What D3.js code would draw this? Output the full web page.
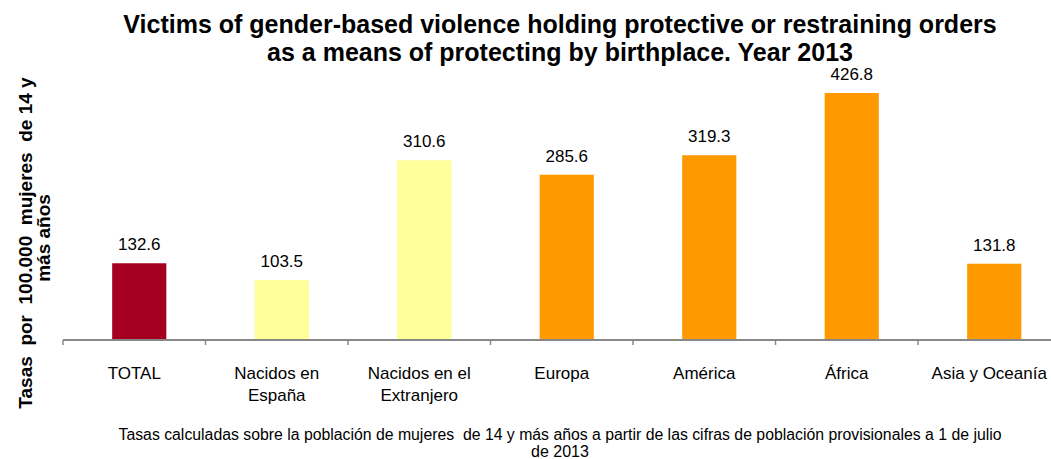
<!DOCTYPE html>
<html>
<head>
<meta charset="utf-8">
<script src="https://cdn.jsdelivr.net/npm/d3@7"></script>
<style>
  html, body { margin: 0; padding: 0; background: #fff; }
  svg { display: block; font-family: "Liberation Sans", Arial, sans-serif; }
</style>
</head>
<body>
<svg id="chart" width="1051" height="459"></svg>
<script>
// ---- Data ----
const categories = ["TOTAL", "Nacidos en\nEspaña", "Nacidos en el\nExtranjero", "Europa", "América", "África", "Asia y Oceanía"];
const values = [132.6, 103.5, 310.6, 285.6, 319.3, 426.8, 131.8];
const valueLabels = ["132.6", "103.5", "310.6", "285.6", "319.3", "426.8", "131.8"];
const titleLines = ["Victims of gender-based violence holding protective or restraining orders", "as a means of protecting by birthplace. Year 2013"];
const yTitleLines = ["Tasas  por  100.000  mujeres  de 14 y", "más años"];
const noteLines = ["Tasas calculadas sobre la población de mujeres  de 14 y más años a partir de las cifras de población provisionales a 1 de julio", "de 2013"];

// ---- Styles ----
const barColors = ["#A50021", "#FFFF99", "#FFFF99", "#FF9900", "#FF9900", "#FF9900", "#FF9900"];

const svg = d3.select("#chart");
const plot = { left: 63, right: 1060.5, top: 93, bottom: 340 };

const x = d3.scaleBand().domain(categories).range([plot.left, plot.right]).padding(0);
const y = d3.scaleLinear().domain([0, 426.8]).range([plot.bottom, plot.top]);
const color = d3.scaleOrdinal().domain(categories).range(barColors);
const barW = x.step() * 0.38;
const barShift = 5;
const barCenter = d => x(d) + x.bandwidth() / 2 + barShift;

// Bars
svg.append("g").selectAll("rect").data(categories).join("rect")
  .attr("x", d => barCenter(d) - barW / 2)
  .attr("width", barW)
  .attr("y", (d, i) => y(values[i]))
  .attr("height", (d, i) => y(0) - y(values[i]))
  .attr("fill", d => color(d));

// Value labels
svg.append("g").selectAll("text").data(categories).join("text")
  .attr("x", d => barCenter(d))
  .attr("y", (d, i) => y(values[i]) - 13)
  .attr("text-anchor", "middle")
  .attr("font-size", 17)
  .attr("fill", "#000")
  .text((d, i) => valueLabels[i]);

// X axis (ticks at category boundaries)
const axis = svg.append("g").attr("transform", `translate(0,${plot.bottom})`);
axis.append("line").attr("x1", plot.left).attr("x2", plot.right).attr("y1", 0).attr("y2", 0)
  .attr("stroke", "#888").attr("stroke-width", 2);
const bounds = categories.map(c => x(c)).concat([plot.right]);
axis.selectAll("line.tick").data(bounds).join("line").attr("class", "tick")
  .attr("x1", d => d).attr("x2", d => d).attr("y1", 0).attr("y2", 5)
  .attr("stroke", "#888").attr("stroke-width", 1.5);

// Category labels
const catG = svg.append("g").selectAll("text").data(categories).join("text")
  .attr("text-anchor", "middle")
  .attr("font-size", 17)
  .attr("fill", "#000")
  .attr("transform", d => `translate(${x(d) + x.bandwidth() / 2},379)`);
catG.selectAll("tspan").data(d => d.split("\n")).join("tspan")
  .attr("x", 0).attr("dy", (d, i) => i === 0 ? 0 : 22).text(d => d);

// Title
svg.append("g").selectAll("text").data(titleLines).join("text")
  .attr("x", 560).attr("y", (d, i) => 33 + i * 28)
  .attr("text-anchor", "middle").attr("font-weight", "bold").attr("font-size", 25)
  .attr("fill", "#000").text(d => d);

// Y title
const yt = svg.append("g");
yt.append("text").attr("transform", "translate(32,243) rotate(-90)")
  .attr("text-anchor", "middle").attr("font-weight", "bold").attr("font-size", 19)
  .style("white-space", "pre")
  .text(yTitleLines[0]);
yt.append("text").attr("transform", "translate(50,238) rotate(-90)")
  .attr("text-anchor", "middle").attr("font-weight", "bold").attr("font-size", 19)
  .text(yTitleLines[1]);

// Footnote
svg.append("g").selectAll("text").data(noteLines).join("text")
  .attr("x", 560).attr("y", (d, i) => 440 + i * 17)
  .attr("text-anchor", "middle").attr("font-size", 16)
  .style("white-space", "pre")
  .attr("textLength", (d, i) => i === 0 ? 883 : null)
  .attr("lengthAdjust", "spacingAndGlyphs")
  .attr("fill", "#000").text(d => d);
</script>
</body>
</html>
